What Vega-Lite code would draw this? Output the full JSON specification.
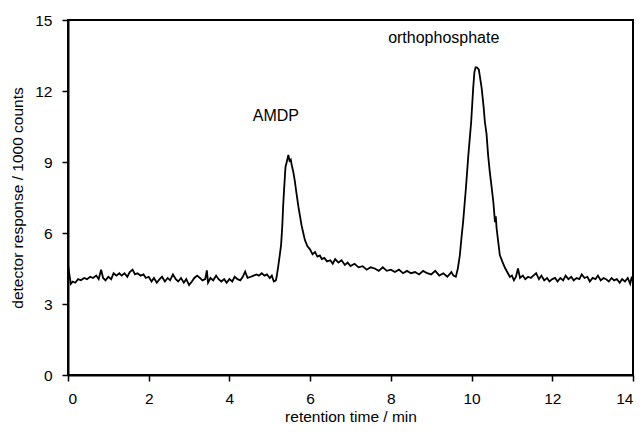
{
  "$schema": "https://vega.github.io/schema/vega-lite/v6.json",
  "autosize": "none",
  "padding": {"left": 68, "top": 20, "right": 10, "bottom": 57},
  "width": 565,
  "height": 355,
  "background": "white",
  "config": {
    "view": {"stroke": "black", "strokeWidth": 2},
    "font": "Liberation Sans",
    "axis": {
      "grid": false,
      "domainColor": "black",
      "domainWidth": 2,
      "tickColor": "black",
      "tickWidth": 1.5,
      "tickSize": 6,
      "labelFont": "Liberation Sans",
      "labelFontSize": 15.5,
      "labelColor": "black",
      "labelPadding": 10,
      "titleFont": "Liberation Sans",
      "titleFontSize": 15.5,
      "titleFontWeight": "normal",
      "titleColor": "black"
    }
  },
  "datasets": {
    "trace": [
      {"t":0,"v":4.65},{"t":0.03,"v":4.3},{"t":0.07,"v":3.85},{"t":0.12,"v":3.95},{"t":0.18,"v":3.9},{"t":0.25,"v":4.05},{"t":0.32,"v":4.0},{"t":0.4,"v":4.1},{"t":0.47,"v":4.05},{"t":0.55,"v":4.15},{"t":0.62,"v":4.1},{"t":0.7,"v":4.2},{"t":0.76,"v":4.05},{"t":0.82,"v":4.45},{"t":0.87,"v":4.1},{"t":0.93,"v":4.0},{"t":1.0,"v":4.15},{"t":1.07,"v":4.05},{"t":1.13,"v":4.3},{"t":1.2,"v":4.2},{"t":1.27,"v":4.3},{"t":1.33,"v":4.2},{"t":1.4,"v":4.3},{"t":1.47,"v":4.15},{"t":1.53,"v":4.35},{"t":1.6,"v":4.45},{"t":1.66,"v":4.25},{"t":1.72,"v":4.3},{"t":1.8,"v":4.2},{"t":1.87,"v":4.25},{"t":1.93,"v":4.1},{"t":2.0,"v":4.15},{"t":2.07,"v":3.95},{"t":2.13,"v":4.1},{"t":2.2,"v":3.9},{"t":2.27,"v":4.05},{"t":2.33,"v":4.15},{"t":2.4,"v":3.95},{"t":2.47,"v":4.1},{"t":2.53,"v":4.0},{"t":2.6,"v":4.25},{"t":2.67,"v":4.05},{"t":2.73,"v":3.95},{"t":2.8,"v":4.1},{"t":2.87,"v":3.9},{"t":2.93,"v":4.05},{"t":3.0,"v":3.8},{"t":3.07,"v":3.95},{"t":3.13,"v":4.1},{"t":3.2,"v":4.2},{"t":3.27,"v":4.1},{"t":3.33,"v":4.0},{"t":3.4,"v":4.05},{"t":3.44,"v":4.42},{"t":3.47,"v":3.9},{"t":3.53,"v":4.1},{"t":3.6,"v":4.0},{"t":3.67,"v":4.2},{"t":3.73,"v":4.05},{"t":3.8,"v":3.95},{"t":3.87,"v":4.05},{"t":3.93,"v":3.9},{"t":4.0,"v":4.05},{"t":4.07,"v":3.95},{"t":4.13,"v":4.15},{"t":4.2,"v":4.05},{"t":4.27,"v":4.0},{"t":4.33,"v":4.15},{"t":4.39,"v":4.37},{"t":4.45,"v":4.1},{"t":4.53,"v":4.15},{"t":4.6,"v":4.2},{"t":4.67,"v":4.25},{"t":4.73,"v":4.2},{"t":4.8,"v":4.3},{"t":4.87,"v":4.2},{"t":4.93,"v":4.25},{"t":5.0,"v":4.1},{"t":5.05,"v":4.2},{"t":5.1,"v":3.95},{"t":5.15,"v":4.0},
      {"t":5.17,"v":4.15},{"t":5.21,"v":4.6},{"t":5.25,"v":5.1},{"t":5.28,"v":5.5},{"t":5.31,"v":6.3},{"t":5.33,"v":7.1},{"t":5.36,"v":8.0},{"t":5.39,"v":8.8},{"t":5.42,"v":9.0},{"t":5.46,"v":9.3},{"t":5.49,"v":9.05},{"t":5.52,"v":9.1},{"t":5.54,"v":8.9},{"t":5.58,"v":8.6},{"t":5.62,"v":8.2},{"t":5.66,"v":7.7},{"t":5.71,"v":7.1},{"t":5.75,"v":6.7},{"t":5.79,"v":6.3},{"t":5.83,"v":6.0},{"t":5.87,"v":5.7},{"t":5.93,"v":5.45},{"t":6.0,"v":5.3},{"t":6.06,"v":5.1},{"t":6.12,"v":5.2},{"t":6.18,"v":5.0},{"t":6.24,"v":5.05},{"t":6.29,"v":4.9},{"t":6.35,"v":4.95},{"t":6.42,"v":4.8},{"t":6.5,"v":4.85},{"t":6.56,"v":4.7},{"t":6.62,"v":4.9},{"t":6.7,"v":4.75},{"t":6.78,"v":4.85},{"t":6.86,"v":4.65},{"t":6.93,"v":4.75},{"t":7.0,"v":4.6},{"t":7.1,"v":4.7},{"t":7.2,"v":4.55},{"t":7.3,"v":4.6},{"t":7.4,"v":4.45},{"t":7.5,"v":4.55},{"t":7.6,"v":4.5},{"t":7.7,"v":4.4},{"t":7.8,"v":4.55},{"t":7.9,"v":4.4},{"t":8.0,"v":4.45},{"t":8.1,"v":4.35},{"t":8.2,"v":4.45},{"t":8.3,"v":4.3},{"t":8.4,"v":4.4},{"t":8.5,"v":4.3},{"t":8.6,"v":4.35},{"t":8.7,"v":4.25},{"t":8.8,"v":4.4},{"t":8.9,"v":4.3},{"t":9.0,"v":4.25},{"t":9.1,"v":4.4},{"t":9.2,"v":4.2},{"t":9.3,"v":4.3},{"t":9.4,"v":4.15},{"t":9.5,"v":4.35},{"t":9.55,"v":4.2},{"t":9.61,"v":4.15},
      {"t":9.66,"v":4.5},{"t":9.71,"v":5.07},{"t":9.75,"v":5.8},{"t":9.79,"v":6.46},{"t":9.86,"v":7.9},{"t":9.92,"v":9.29},{"t":9.99,"v":10.69},{"t":10.04,"v":12.12},{"t":10.07,"v":12.8},{"t":10.1,"v":13.0},{"t":10.13,"v":13.0},{"t":10.16,"v":12.95},{"t":10.18,"v":12.9},{"t":10.25,"v":12.12},{"t":10.3,"v":11.3},{"t":10.33,"v":10.69},{"t":10.37,"v":10.2},{"t":10.41,"v":9.29},{"t":10.45,"v":8.6},{"t":10.5,"v":7.9},{"t":10.54,"v":7.3},{"t":10.58,"v":6.46},{"t":10.6,"v":6.7},{"t":10.62,"v":6.2},{"t":10.7,"v":5.07},{"t":10.76,"v":4.8},{"t":10.83,"v":4.52},{"t":10.9,"v":4.3},{"t":10.95,"v":4.14},
      {"t":11.0,"v":4.2},{"t":11.05,"v":4.0},{"t":11.1,"v":4.15},{"t":11.15,"v":4.5},{"t":11.2,"v":4.1},{"t":11.27,"v":4.2},{"t":11.33,"v":4.05},{"t":11.4,"v":4.15},{"t":11.47,"v":4.1},{"t":11.53,"v":4.2},{"t":11.6,"v":4.3},{"t":11.67,"v":4.05},{"t":11.73,"v":4.2},{"t":11.8,"v":4.0},{"t":11.87,"v":4.1},{"t":11.93,"v":3.95},{"t":12.0,"v":4.05},{"t":12.07,"v":4.1},{"t":12.13,"v":3.95},{"t":12.2,"v":4.1},{"t":12.27,"v":4.0},{"t":12.33,"v":4.2},{"t":12.4,"v":4.05},{"t":12.47,"v":4.15},{"t":12.53,"v":4.0},{"t":12.6,"v":4.1},{"t":12.67,"v":4.05},{"t":12.73,"v":4.25},{"t":12.8,"v":4.1},{"t":12.87,"v":4.15},{"t":12.93,"v":3.95},{"t":13.0,"v":4.1},{"t":13.07,"v":4.05},{"t":13.13,"v":4.2},{"t":13.2,"v":4.0},{"t":13.27,"v":4.1},{"t":13.33,"v":4.05},{"t":13.4,"v":3.95},{"t":13.47,"v":4.1},{"t":13.53,"v":4.0},{"t":13.6,"v":4.05},{"t":13.67,"v":3.9},{"t":13.73,"v":4.05},{"t":13.8,"v":3.95},{"t":13.87,"v":4.1},{"t":13.93,"v":3.85},{"t":13.97,"v":4.15},{"t":14.0,"v":3.95}
    ],
    "labels": [
      {"t": 5.15, "v": 10.94, "label": "AMDP"},
      {"t": 9.31, "v": 14.24, "label": "orthophosphate"}
    ]
  },
  "layer": [
    {
      "data": {"name": "trace"},
      "mark": {"type": "line", "color": "black", "strokeWidth": 1.8, "clip": true},
      "encoding": {
        "x": {
          "field": "t", "type": "quantitative",
          "scale": {"domain": [0, 14], "nice": false, "zero": false},
          "axis": {"values": [0, 2, 4, 6, 8, 10, 12, 14], "title": "retention time / min", "titlePadding": 3}
        },
        "y": {
          "field": "v", "type": "quantitative",
          "scale": {"domain": [0, 15], "nice": false},
          "axis": {"values": [0, 3, 6, 9, 12, 15], "title": "detector response / 1000 counts", "titlePadding": 9}
        }
      }
    },
    {
      "data": {"name": "labels"},
      "mark": {"type": "text", "fontSize": 16, "font": "Liberation Sans", "color": "black", "baseline": "middle", "align": "center"},
      "encoding": {
        "x": {"field": "t", "type": "quantitative"},
        "y": {"field": "v", "type": "quantitative"},
        "text": {"field": "label"}
      }
    }
  ]
}
